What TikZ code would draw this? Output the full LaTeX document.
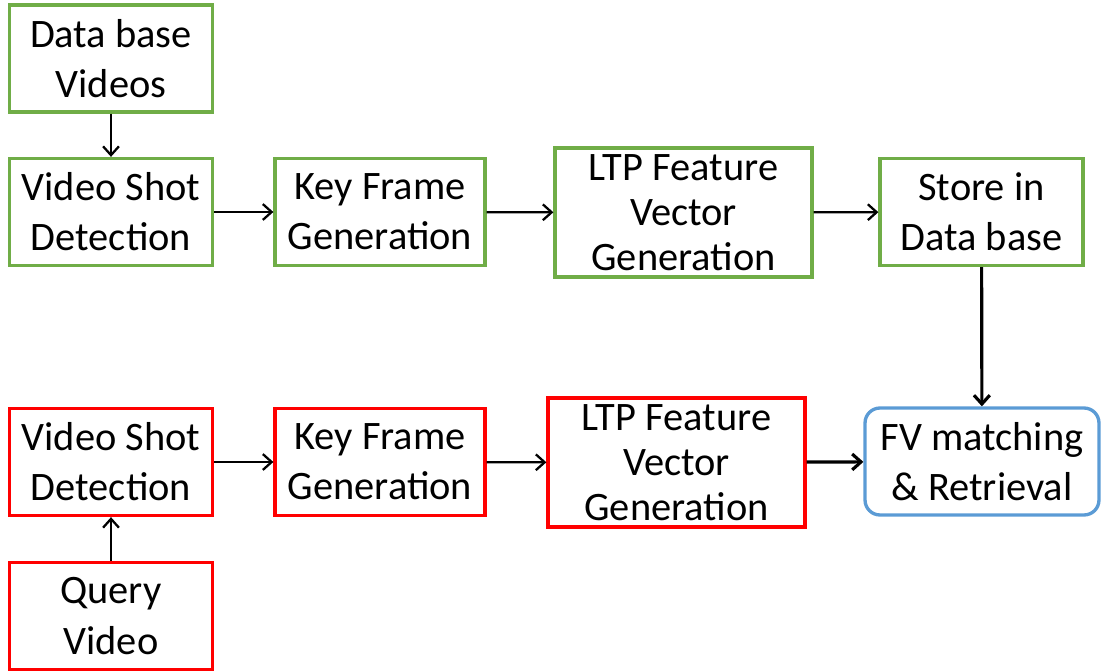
\documentclass[tikz,border=0pt]{standalone}
\usepackage{fontspec}
\setmainfont{Carlito}
\usetikzlibrary{arrows.meta,positioning}

\definecolor{dbgreen}{RGB}{112,173,71}
\definecolor{qred}{RGB}{255,0,0}
\definecolor{mblue}{RGB}{91,155,213}

\begin{document}
\begin{tikzpicture}[x=0.02cm,y=-0.02cm,->,>={Straight Barb[length=5pt,width=9pt]},
      line width=1.3pt,
      stage/.style={rectangle,draw,line width=1.9pt,minimum width=4.06cm,minimum height=2.14cm,
        align=center,inner sep=0pt,font=\fontsize{23}{28.5}\selectfont},
      ltpstage/.style={stage,minimum width=5.14cm,minimum height=2.58cm,font=\fontsize{23}{25.6}\selectfont},
      dbstage/.style={draw=dbgreen},
      qstage/.style={draw=qred},
      match/.style={stage,draw=mblue,rounded corners=0.3cm,minimum width=4.68cm}]
    \useasboundingbox (0,0) rectangle (1101,672);

    % data base side
      \node[stage,dbstage] (dbvideos) at (111,58.5)  {Data base\\Videos};
      \node[stage,dbstage] (dbshot) at (111,212)     {Video Shot\\Detection};
      \node[stage,dbstage,minimum width=4.2cm] (dbkey) at (380,212) {Key Frame\\Generation};
      \node[ltpstage,dbstage] (dbltp) at (683.5,212.5) {LTP Feature\\Vector\\Generation};
      \node[stage,dbstage] (store) at (981.5,212)    {Store in\\Data base};

    % query side
      \node[stage,qstage] (qshot) at (111,462)       {Video Shot\\Detection};
      \node[stage,qstage,minimum width=4.2cm] (qkey) at (380,462) {Key Frame\\Generation};
      \node[ltpstage,qstage] (qltp) at (676.5,462.5) {LTP Feature\\Vector\\Generation};
      \node[stage,qstage] (query) at (111,616)       {Query\\Video};

      \node[match] (fvmatch) at (982,461.5)          {FV matching\\\& Retrieval};

      \foreach \from/\to in {dbvideos/dbshot,dbshot/dbkey,dbkey/dbltp,dbltp/store,
	  query/qshot,qshot/qkey,qkey/qltp}
	\draw (\from) -- (\to);

      \draw[line width=1.8pt] (store) -- (fvmatch);
      \draw[line width=1.8pt] (qltp) -- (fvmatch);

    \end{tikzpicture}
\end{document}
